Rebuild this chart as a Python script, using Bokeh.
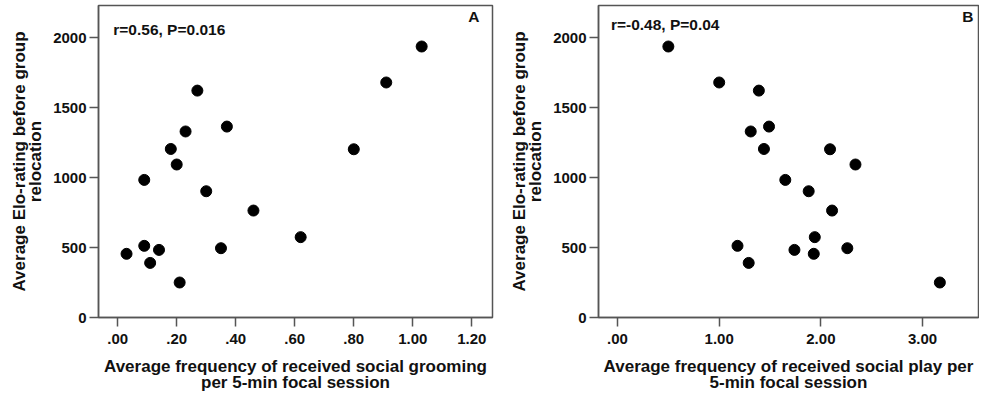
from bokeh.plotting import figure
from bokeh.models import Range1d, FixedTicker, Label
from bokeh.layouts import row
from bokeh.embed import file_html
from bokeh.resources import INLINE

# Data
elo = [1936, 1679, 1621, 1364, 1329, 1204, 1202, 1093, 983, 902, 764, 574, 512, 483, 495, 455, 390, 250]
grooming = [1.03, 0.91, 0.27, 0.37, 0.23, 0.18, 0.80, 0.20, 0.09, 0.30, 0.46, 0.62, 0.09, 0.14, 0.35, 0.03, 0.11, 0.21]
play = [0.50, 1.00, 1.39, 1.49, 1.31, 1.44, 2.09, 2.34, 1.65, 1.88, 2.11, 1.94, 1.18, 1.74, 2.26, 1.93, 1.29, 3.17]

y_ticks = [0, 500, 1000, 1500, 2000]
xa_ticks = [0.0, 0.2, 0.4, 0.6, 0.8, 1.0, 1.2]
xa_labels = [".00", ".20", ".40", ".60", ".80", "1.00", "1.20"]
xb_ticks = [0.0, 1.0, 2.0, 3.0]
xb_labels = [".00", "1.00", "2.00", "3.00"]

FONT = "Liberation Sans"
LINE = "#555555"


def make_fig(fw, left, right, xr, xticks, xlabels, xlabel, stat, letter, stat_xy, letter_xy):
    p = figure(frame_width=fw, frame_height=312, output_backend="svg", toolbar_location=None,
               x_range=Range1d(*xr), y_range=Range1d(0, 2229),
               min_border_left=left, min_border_right=right,
               min_border_top=5, min_border_bottom=70)
    p.background_fill_color = "white"
    p.border_fill_color = "white"
    p.outline_line_color = LINE
    p.outline_line_width = 1.5
    p.grid.visible = False
    for ax in (p.xaxis[0], p.yaxis[0]):
        ax.axis_line_color = LINE
        ax.axis_line_width = 1.5
        ax.major_tick_line_color = LINE
        ax.major_tick_line_width = 1.5
        ax.major_tick_out = 9
        ax.major_tick_in = 0
        ax.minor_tick_line_color = None
        ax.major_label_text_font = FONT
        ax.major_label_text_font_style = "bold"
        ax.major_label_text_font_size = "15px"
        ax.major_label_text_color = "#111111"
        ax.axis_label_text_font = FONT
        ax.axis_label_text_font_style = "bold"
        ax.axis_label_text_font_size = "17px"
        ax.axis_label_text_line_height = 0.85
        ax.axis_label_text_color = "#111111"
    p.xaxis[0].ticker = FixedTicker(ticks=xticks)
    p.xaxis[0].major_label_overrides = {t: l for t, l in zip(xticks, xlabels)}
    p.xaxis[0].major_label_standoff = 7
    p.xaxis[0].axis_label = xlabel
    p.xaxis[0].axis_label_standoff = 10
    p.yaxis[0].ticker = FixedTicker(ticks=y_ticks)
    p.yaxis[0].major_label_standoff = 3
    p.yaxis[0].axis_label = "Average Elo-rating before group\nrelocation"
    p.yaxis[0].axis_label_standoff = 5
    p.add_layout(Label(x=stat_xy[0], y=stat_xy[1], text=stat, text_font=FONT,
                       text_font_style="bold", text_font_size="15.5px", text_color="#111111"))
    p.add_layout(Label(x=letter_xy[0], y=letter_xy[1], text=letter, text_font=FONT,
                       text_font_style="bold", text_font_size="15.5px", text_color="#111111",
                       text_align="right"))
    return p


pa = make_fig(394, 98, 10, (-0.065, 1.27), xa_ticks, xa_labels,
              "Average frequency of received social grooming\nper 5-min focal session",
              "r=0.56, P=0.016", "A", (-0.015, 2000), (1.226, 2090))
pa.scatter(grooming, elo, size=11, color="black")

pb = make_fig(380, 96, 1, (-0.187, 3.55), xb_ticks, xb_labels,
              "Average frequency of received social play per\n5-min focal session",
              "r=-0.48, P=0.04", "B", (-0.065, 2036), (3.50, 2088))
pb.scatter(play, elo, size=11, color="black")

layout = row(pa, pb)
open("out.html", "w").write(file_html(layout, INLINE))
